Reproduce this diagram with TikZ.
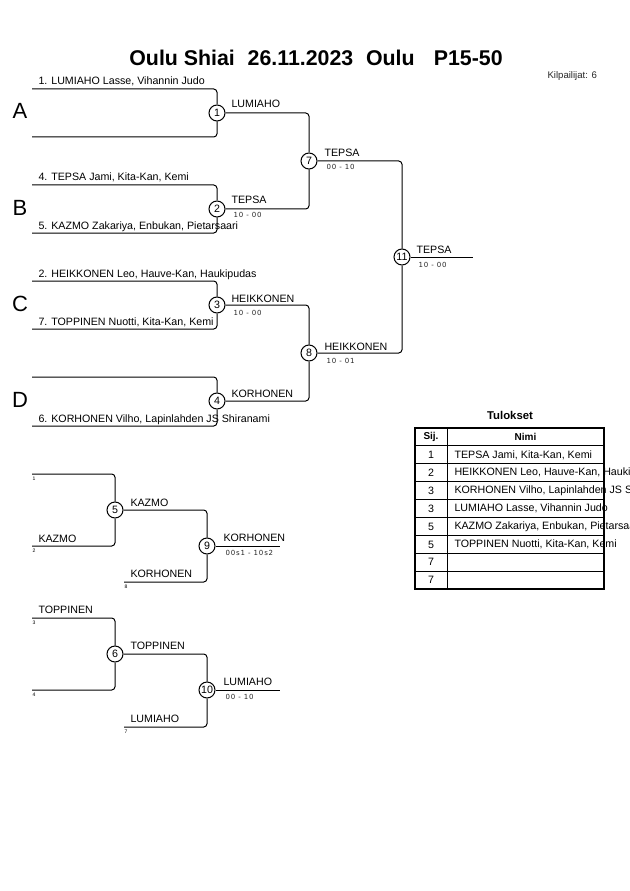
\documentclass[tikz,border=0pt]{standalone}
\usepackage{fontspec}
\setmainfont{Liberation Sans}
\newfontfamily\scorefont[LetterSpace=12]{DejaVu Sans}
\begin{document}
\begin{tikzpicture}[x=0.75pt,y=-0.75pt,line width=0.75pt,
  br/.style={rounded corners=2.5pt},
  match/.style={circle,draw,fill=white,minimum size=12pt,inner sep=0pt,font=\fontsize{8pt}{9pt}\selectfont},
  lbl/.style={anchor=base west,inner sep=0pt,font=\fontsize{8pt}{9pt}\selectfont},
  score/.style={anchor=base west,inner sep=0pt,text=black!85,font=\scorefont\fontsize{5.25pt}{6pt}\selectfont},
  seed/.style={anchor=base west,inner sep=0pt,font=\fontsize{3.8pt}{4pt}\selectfont},
  pool/.style={anchor=base,inner sep=0pt,font=\fontsize{16.5pt}{18pt}\selectfont},
  cell/.style={inner sep=0pt,font=\fontsize{8pt}{9pt}\selectfont},
]
\useasboundingbox (0,0) rectangle (630,891);

% title
\node[anchor=base,inner sep=0pt,font=\bfseries\fontsize{16pt}{18pt}\selectfont] (title) at (316,66)
  {Oulu Shiai\hspace{0.6em}26.11.2023\hspace{0.6em}Oulu\hspace{0.9em}P15-50};
\node[anchor=base west,inner sep=0pt,font=\fontsize{7.2pt}{8pt}\selectfont,text=black!85] (count) at (547,79) {Kilpailijat: 6};

% pools
\node[pool] (pA) at (20,119) {A};
\node[pool] (pB) at (20,215) {B};
\node[pool] (pC) at (20,311) {C};
\node[pool] (pD) at (20,407) {D};

% match circles main
\node[match] (m1) at (217,113) {1};
\node[match] (m2) at (217,209) {2};
\node[match] (m3) at (217,305) {3};
\node[match] (m4) at (217,401) {4};
\node[match] (m7) at (309,161) {7};
\node[match] (m8) at (309,353) {8};
\node[match] (m11) at (402,257) {11};

\coordinate (a1) at (32,89);  \coordinate (a2) at (32,137);
\coordinate (b1) at (32,185); \coordinate (b2) at (32,233);
\coordinate (c1) at (32,281); \coordinate (c2) at (32,329);
\coordinate (d1) at (32,377); \coordinate (d2) at (32,426);
\coordinate (fin) at (473,257);

\foreach \s/\m in {a1/m1,a2/m1,b1/m2,b2/m2,c1/m3,c2/m3,d1/m4,d2/m4}
  \draw[br] (\s) -| (\m);
\draw[br] (m1) -| (m7);
\draw[br] (m2) -| (m7);
\draw[br] (m3) -| (m8);
\draw[br] (m4) -| (m8);
\draw[br] (m7) -| (m11);
\draw[br] (m8) -| (m11);
\draw (m11) -- (fin);

% entrant labels
\node[lbl] (e1) at (38,85) {1. LUMIAHO Lasse, Vihannin Judo};
\node[lbl] (e4) at (38,181) {4. TEPSA Jami, Kita-Kan, Kemi};
\node[lbl] (e5) at (38,229) {5. KAZMO Zakariya, Enbukan, Pietarsaari};
\node[lbl] (e2) at (38,277) {2. HEIKKONEN Leo, Hauve-Kan, Haukipudas};
\node[lbl] (e7) at (38,325) {7. TOPPINEN Nuotti, Kita-Kan, Kemi};
\node[lbl] (e6) at (38,422) {6. KORHONEN Vilho, Lapinlahden JS Shiranami};

% winners and scores
\node[lbl] (w1) at (231,108) {LUMIAHO};
\node[lbl] (w2) at (231,204) {TEPSA};
\node[score] (s2) at (233,218) {10 - 00};
\node[lbl] (w3) at (231,302) {HEIKKONEN};
\node[score] (s3) at (233,315) {10 - 00};
\node[lbl] (w4) at (231,397) {KORHONEN};
\node[lbl] (w7) at (324,157) {TEPSA};
\node[score] (s7) at (326,170) {00 - 10};
\node[lbl] (w8) at (324,350) {HEIKKONEN};
\node[score] (s8) at (326,363) {10 - 01};
\node[lbl] (w11) at (416,253) {TEPSA};
\node[score] (s11) at (418,267) {10 - 00};

% repechage
\node[match] (m5) at (115,510) {5};
\node[match] (m9) at (207,546) {9};
\node[match] (m6) at (115,654) {6};
\node[match] (m10) at (207,690) {10};
\coordinate (r1) at (32,474);  \coordinate (r2) at (32,546);
\coordinate (r8) at (124,582); \coordinate (f9) at (280,546);
\coordinate (r3) at (32,618);  \coordinate (r4) at (32,690);
\coordinate (r7) at (124,727); \coordinate (f10) at (280,690);
\draw[br] (r1) -| (m5);
\draw[br] (r2) -| (m5);
\draw[br] (m5) -| (m9);
\draw[br] (r8) -| (m9);
\draw (m9) -- (f9);
\draw[br] (r3) -| (m6);
\draw[br] (r4) -| (m6);
\draw[br] (m6) -| (m10);
\draw[br] (r7) -| (m10);
\draw (m10) -- (f10);

\node[seed] (n1) at (32,480) {1};
\node[seed] (n2) at (32,552) {2};
\node[seed] (n8) at (124,588) {8};
\node[seed] (n3) at (32,624) {3};
\node[seed] (n4) at (32,696) {4};
\node[seed] (n7) at (124,733) {7};

\node[lbl] (k1) at (38,542) {KAZMO};
\node[lbl] (k5) at (130,506) {KAZMO};
\node[lbl] (k8) at (130,577) {KORHONEN};
\node[lbl] (k9) at (223,541) {KORHONEN};
\node[score] (s9) at (225,555) {00s1 - 10s2};
\node[lbl] (t3) at (38,613) {TOPPINEN};
\node[lbl] (t6) at (130,649) {TOPPINEN};
\node[lbl] (t7) at (130,722) {LUMIAHO};
\node[lbl] (t10) at (223,685) {LUMIAHO};
\node[score] (s10) at (225,699) {00 - 10};

% results table
\node[anchor=base,inner sep=0pt,font=\bfseries\fontsize{8.5pt}{9pt}\selectfont] (tul) at (510,419) {Tulokset};
\foreach \i in {1,...,8}
  \draw[line width=0.75pt] (415,428+17.9*\i) -- (604,428+17.9*\i);
\draw (447,428) -- (447,589);
\node[cell,font=\bfseries\fontsize{7.5pt}{9pt}\selectfont] (hs) at (431,437) {Sij.};
\node[cell,font=\bfseries\fontsize{7.5pt}{9pt}\selectfont] (hn) at (525.5,437) {Nimi};
\foreach \r/\p/\n in {1/1/{TEPSA Jami, Kita-Kan, Kemi},
                      2/2/{HEIKKONEN Leo, Hauve-Kan, Haukipudas},
                      3/3/{KORHONEN Vilho, Lapinlahden JS Shiranami},
                      4/3/{LUMIAHO Lasse, Vihannin Judo},
                      5/5/{KAZMO Zakariya, Enbukan, Pietarsaari},
                      6/5/{TOPPINEN Nuotti, Kita-Kan, Kemi},
                      7/7/{},
                      8/7/{}} {
  \node[cell] (p\r) at (431,437+17.9*\r) {\p};
  \node[cell,anchor=west] (nm\r) at (454,437+17.9*\r) {\n};
}
\draw[line width=1.5pt] (415,428) rectangle (604,589);
\end{tikzpicture}
\end{document}
